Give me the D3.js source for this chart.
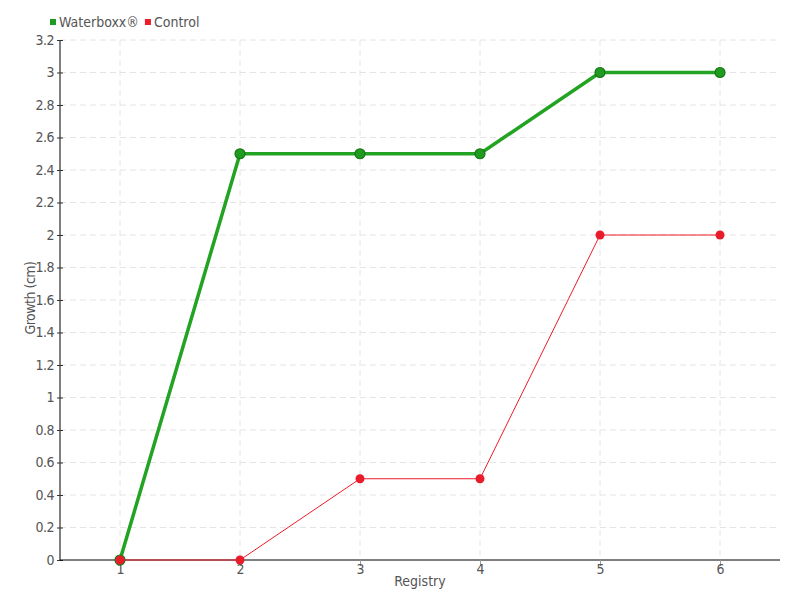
<!DOCTYPE html>
<html><head><meta charset="utf-8">
<script src="https://cdn.jsdelivr.net/npm/d3@7"></script>
<style>body{margin:0;background:#fff}text{font-family:"DejaVu Sans Condensed","Liberation Sans Narrow",sans-serif;fill:#555}</style>
</head><body><svg id="c" width="800" height="600"></svg>
<script>
const registry = [1, 2, 3, 4, 5, 6];
const waterboxx = [0, 2.5, 2.5, 2.5, 3, 3];
const control = [0, 0, 0.5, 0.5, 2, 2];
const yTicks = [0, 0.2, 0.4, 0.6, 0.8, 1, 1.2, 1.4, 1.6, 1.8, 2, 2.2, 2.4, 2.6, 2.8, 3, 3.2];
const seriesNames = ["Waterboxx®", "Control"];

const svg = d3.select("#c");
const x = d3.scaleLinear().domain([0.5, 6.5]).range([60, 780]);
const y = d3.scaleLinear().domain([0, 3.2]).range([560, 40]);

// grid
svg.append("g").selectAll("line").data(yTicks.slice(1)).join("line")
  .attr("x1", 60).attr("x2", 780).attr("y1", d => y(d)).attr("y2", d => y(d))
  .attr("stroke", "#e4e4e4").attr("stroke-dasharray", "6,4");
svg.append("g").selectAll("line").data(registry).join("line")
  .attr("x1", d => x(d)).attr("x2", d => x(d)).attr("y1", 40).attr("y2", 560)
  .attr("stroke", "#e4e4e4").attr("stroke-dasharray", "6,4");

// axes
const yAxis = svg.append("g").attr("transform", "translate(60,0)")
  .call(d3.axisLeft(y).tickValues(yTicks).tickFormat(d3.format("~g")).tickSize(3).tickPadding(3));
yAxis.select(".domain").attr("stroke", "#000").attr("d", "M0,40V560");
yAxis.selectAll(".tick line").attr("x2", 3).attr("x1", -3).attr("stroke", "#333");
yAxis.selectAll("text").style("font-size", "14px").style("letter-spacing", "-0.5px").attr("fill", "#555");

const xAxis = svg.append("g").attr("transform", "translate(0,560)")
  .call(d3.axisBottom(x).tickValues(registry).tickFormat(d3.format("d")).tickSize(6).tickPadding(-2));
xAxis.select(".domain").attr("stroke", "#000").attr("d", "M60,0H780");
xAxis.selectAll(".tick line").attr("stroke", "#999");
xAxis.selectAll("text").style("font-size", "14px").attr("fill", "#555");

// axis titles
svg.append("text").attr("x", 420).attr("y", 586).attr("text-anchor", "middle")
  .style("font-size", "14px").text("Registry");
svg.append("text").attr("transform", "translate(35,298) rotate(-90)").attr("text-anchor", "middle")
  .style("font-size", "14px").style("letter-spacing", "-0.5px").text("Growth (cm)");

// lines
const line = d3.line().x((d, i) => x(registry[i])).y(d => y(d));
svg.append("path").datum(waterboxx).attr("d", line).attr("fill", "none")
  .attr("stroke", "#22a322").attr("stroke-width", 3.5);
svg.append("g").selectAll("circle").data(waterboxx).join("circle")
  .attr("cx", (d, i) => x(registry[i])).attr("cy", d => y(d)).attr("r", 5)
  .attr("fill", "#1f9b1f").attr("stroke", "#177817").attr("stroke-width", 1.2);

svg.append("path").datum(control).attr("d", line).attr("fill", "none")
  .attr("stroke", "#ee1c2a").attr("stroke-width", 1);
svg.append("g").selectAll("circle").data(control).join("circle")
  .attr("cx", (d, i) => x(registry[i])).attr("cy", d => y(d)).attr("r", 4.5)
  .attr("fill", "#e81c2a");

// legend
const colors = ["#1f9b1f", "#ee1c2a"];
const lg = svg.append("g");
let lx = 50;
seriesNames.forEach((n, i) => {
  lg.append("rect").attr("x", lx).attr("y", 19).attr("width", 6).attr("height", 6).attr("fill", colors[i]);
  const t = lg.append("text").attr("x", lx + 9).attr("y", 27).style("font-size", "14px").text(n);
  lx += 9 + t.node().getComputedTextLength() + 6;
});
</script></body></html>
